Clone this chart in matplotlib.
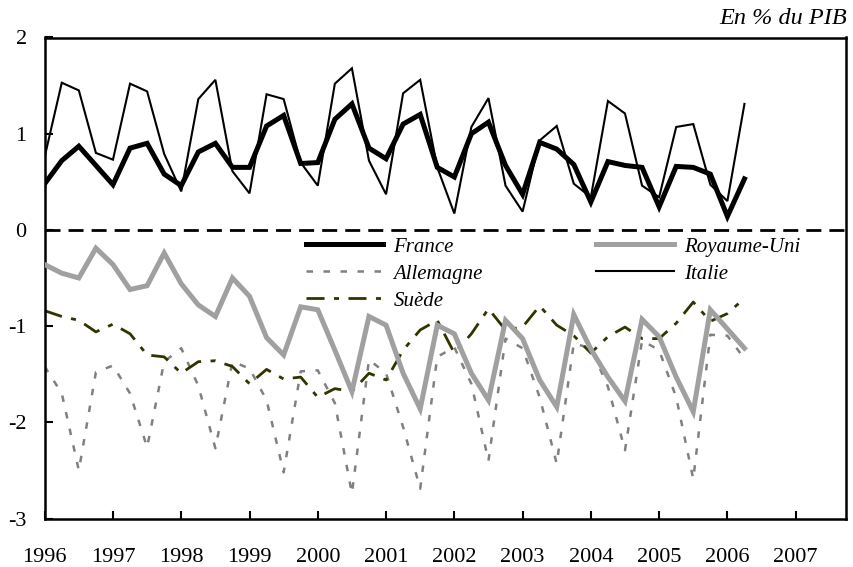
import matplotlib
matplotlib.use("Agg")
import matplotlib.pyplot as plt
import numpy as np

# Quarterly data, 1996Q1 .. 2006Q2
start_year = 1996
france = [0.48, 0.72, 0.87, 0.67, 0.47, 0.85, 0.90, 0.58, 0.46, 0.81, 0.90, 0.65,
          0.65, 1.08, 1.19, 0.69, 0.70, 1.15, 1.31, 0.85, 0.74, 1.10, 1.20, 0.65,
          0.55, 1.00, 1.12, 0.67, 0.37, 0.91, 0.84, 0.68, 0.29, 0.71, 0.67, 0.65,
          0.24, 0.66, 0.65, 0.58, 0.14, 0.53]
italie = [0.76, 1.53, 1.45, 0.80, 0.73, 1.52, 1.44, 0.79, 0.40, 1.36, 1.56, 0.61,
          0.38, 1.41, 1.36, 0.70, 0.46, 1.52, 1.68, 0.72, 0.37, 1.42, 1.56, 0.65,
          0.17, 1.07, 1.37, 0.46, 0.19, 0.93, 1.08, 0.48, 0.34, 1.34, 1.21, 0.46,
          0.34, 1.07, 1.10, 0.47, 0.30, 1.31]
royaume_uni = [-0.36, -0.45, -0.50, -0.19, -0.36, -0.62, -0.58, -0.24, -0.56, -0.78,
               -0.90, -0.50, -0.69, -1.12, -1.30, -0.80, -0.83, -1.25, -1.68, -0.90,
               -0.99, -1.49, -1.86, -0.99, -1.08, -1.49, -1.77, -0.94, -1.13, -1.56,
               -1.84, -0.88, -1.24, -1.53, -1.78, -0.93, -1.11, -1.53, -1.89, -0.83,
               -1.03, -1.23]
allemagne = [-1.42, -1.70, -2.50, -1.48, -1.41, -1.70, -2.26, -1.37, -1.23, -1.62,
             -2.27, -1.37, -1.44, -1.77, -2.52, -1.47, -1.46, -1.80, -2.74, -1.35,
             -1.49, -2.05, -2.69, -1.32, -1.22, -1.60, -2.40, -1.13, -1.23, -1.74,
             -2.43, -1.18, -1.23, -1.63, -2.29, -1.15, -1.25, -1.74, -2.59, -1.09,
             -1.10, -1.34]
suede = [-0.84, -0.90, -0.94, -1.06, -0.98, -1.08, -1.30, -1.32, -1.49, -1.37,
         -1.36, -1.42, -1.60, -1.45, -1.55, -1.53, -1.74, -1.65, -1.68, -1.49,
         -1.56, -1.25, -1.04, -0.94, -1.28, -1.08, -0.82, -1.04, -1.01, -0.79,
         -0.99, -1.10, -1.28, -1.11, -1.01, -1.13, -1.13, -0.97, -0.75, -0.95,
         -0.87, -0.71]
year_ticks = list(range(1996, 2008))
y_ticks = [-3, -2, -1, 0, 1, 2]

plt.rcParams['font.family'] = ['Liberation Serif', 'DejaVu Serif']

fig = plt.figure(figsize=(8.54, 5.67), dpi=100)
W, H = 854, 567
ax_l, ax_r, ax_t, ax_b = 44.7, 845.7, 37.5, 518.5
ax = fig.add_axes([ax_l / W, 1 - ax_b / H, (ax_r - ax_l) / W, (ax_b - ax_t) / H])

n = len(france)
x = start_year + np.arange(n) / 4.0

ax.axhline(0, color='black', lw=2.0, linestyle=(0, (5.4, 2.9)), zorder=1)

l_fr, = ax.plot(x, france, color='black', lw=3.6, label='France', zorder=5,
                solid_joinstyle='miter')
l_ru, = ax.plot(x, royaume_uni, color='#A0A0A0', lw=3.6, label='Royaume-Uni', zorder=3,
                solid_joinstyle='miter')
l_al, = ax.plot(x, allemagne, color='#808080', lw=1.8, linestyle=(0, (2.6, 4.2)),
                label='Allemagne', zorder=2)
l_it, = ax.plot(x, italie, color='black', lw=1.5, label='Italie', zorder=4,
                solid_joinstyle='miter')
l_se, = ax.plot(x, suede, color='#333300', lw=2.0,
                linestyle=(0, (6.5, 3.4, 1.8, 3.4)), label='Suède', zorder=2)

ax.set_xlim(1996, 1996 + (ax_r - ax_l) / 68.27)
ax.set_ylim(-3, 2)
ax.set_xticks(year_ticks)
ax.set_xticklabels([str(y) for y in year_ticks])
ax.set_yticks(y_ticks)
ax.set_yticklabels([str(v) for v in y_ticks])

ax.tick_params(axis='both', direction='in', length=6, width=1.5, labelsize=16)
ax.tick_params(axis='x', pad=21)
ax.tick_params(axis='y', pad=13)
for s in ax.spines.values():
    s.set_linewidth(1.8)

leg = ax.legend(handles=[l_fr, l_al, l_se, l_ru, l_it], ncol=2, frameon=False,
                loc='upper left', bbox_to_anchor=((306 - ax_l) / (ax_r - ax_l),
                                                  1 - (237 - ax_t) / (ax_b - ax_t)),
                borderpad=0, borderaxespad=0, handlelength=3.7, handletextpad=0.5,
                columnspacing=5.45, labelspacing=0.36,
                prop={'family': 'Liberation Serif', 'style': 'italic', 'size': 15})

fig.text(ax_r / W + 1 / W, 1 - 18 / H, 'En % du PIB', ha='right', va='center',
         fontsize=17.5, style='italic')

fig.savefig('out.png', dpi=100)
